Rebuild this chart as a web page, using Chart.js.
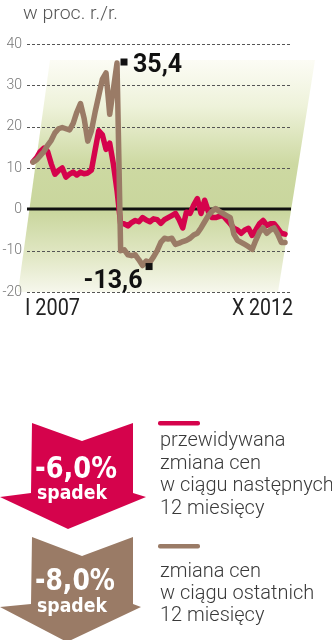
<!DOCTYPE html>
<html lang="pl">
<head>
<meta charset="utf-8">
<script src="https://cdn.jsdelivr.net/npm/chart.js@4"></script>
<style>
  html, body { margin: 0; padding: 0; background: #fff; }
  #wrap { position: relative; width: 332px; height: 640px; overflow: hidden; }
  #chart { position: absolute; left: 0; top: 0; }
  #overlay { position: absolute; left: 0; top: 0; }
  .narrow { font-family: "DejaVu Sans Condensed", "DejaVu Sans", sans-serif; }
  .light { font-family: Roboto, "Open Sans", sans-serif; font-weight: 300; }
</style>
</head>
<body>
<div id="wrap">
  <canvas id="chart" width="332" height="330"></canvas>
  <svg id="overlay" width="332" height="640" xmlns="http://www.w3.org/2000/svg">
    <text class="light" x="23" y="19" font-size="19" fill="#555" textLength="95" lengthAdjust="spacingAndGlyphs">w proc. r./r.</text>
    <text x="25" y="315" font-family="Roboto, sans-serif" font-size="24" fill="#222" textLength="55" lengthAdjust="spacingAndGlyphs">I 2007</text>
    <text x="232" y="315" font-family="Roboto, sans-serif" font-size="24" fill="#222" textLength="61" lengthAdjust="spacingAndGlyphs">X 2012</text>

    <!-- strzałki -->
    <polygon points="32,423 82,441 133,423 133,493 146,497 68,529 0,497 31,493" fill="#d5034c"/>
    <text class="narrow" x="35" y="478" font-size="31" font-weight="bold" fill="#fff" textLength="82" lengthAdjust="spacingAndGlyphs">-6,0%</text>
    <text class="narrow" x="37" y="499" font-size="19" font-weight="bold" fill="#fff" textLength="70" lengthAdjust="spacingAndGlyphs">spadek</text>

    <polygon points="32,537 82,556 133,537 133,604 141,607 67,642 0,607 31,604" fill="#9a7b66"/>
    <text class="narrow" x="35" y="590" font-size="31" font-weight="bold" fill="#fff" textLength="80" lengthAdjust="spacingAndGlyphs">-8,0%</text>
    <text class="narrow" x="37" y="612" font-size="19" font-weight="bold" fill="#fff" textLength="70" lengthAdjust="spacingAndGlyphs">spadek</text>

    <!-- legenda -->
    <rect x="158" y="421" width="42" height="4.5" rx="2" fill="#d5034c"/>
    <text class="light" font-size="20" fill="#3a3a3a">
      <tspan x="160" y="446">przewidywana</tspan>
      <tspan x="160" y="468.5">zmiana cen</tspan>
      <tspan x="160" y="491">w ciągu następnych</tspan>
      <tspan x="160" y="513.5">12 miesięcy</tspan>
    </text>
    <rect x="158" y="544" width="42" height="4.5" rx="2" fill="#9a7b66"/>
    <text class="light" font-size="20" fill="#3a3a3a">
      <tspan x="160" y="577">zmiana cen</tspan>
      <tspan x="160" y="599">w ciągu ostatnich</tspan>
      <tspan x="160" y="621">12 miesięcy</tspan>
    </text>
  </svg>
</div>
<script>
// Dane: styczeń 2007 - październik 2012, zmiana cen mieszkań r/r w %
const romanMonths = ['I','II','III','IV','V','VI','VII','VIII','IX','X','XI','XII'];
const years = [2007, 2008, 2009, 2010, 2011, 2012];

// przewidywana zmiana cen w ciągu następnych 12 miesięcy
const expectedChange = [
  11.5, 12.5, 14, 14.8, 14, 11, 8.5, 9.4, 10, 7.8, 8.5, 9,
  8.3, 9, 8.6, 8.8, 9.5, 14.3, 19, 18, 14.5, 16, 11, 4.6,
  -3.5, -3.5, -4, -3.2, -2.7, -3, -2, -2.6, -3, -2.3, -2.5, -3.4,
  -2.5, -2, -1.5, -1, -2.5, -4.5, -0.7, -1, 1, 2.6, -1, 2.2,
  -0.5, -2, -2, -1.7, -1.5, -2.5, -3.5, -4.6, -5, -5.8, -5, -4.6,
  -6.3, -5, -3.5, -2.7, -3.9, -3.5, -3.5, -4.6, -5.8, -6
];

// zmiana cen w ciągu ostatnich 12 miesięcy
const actualChange = [
  11.4, 12, 13, 14, 15.5, 16.7, 18.5, 19.5, 19.8, 19.5, 19.2, 20.8,
  23.5, 25.6, 22, 16.5, 19, 23.5, 27.5, 31.5, 33, 23, 29, 35.4,
  -10, -9.8, -11, -11.2, -11, -12.2, -13.6, -12.5, -12.8, -11.5, -10, -8,
  -7, -7.2, -7, -8.5, -8.2, -7.8, -7.5, -7, -6.2, -5.8, -4.5, -3,
  -1.5, -0.5, 0.2, -0.5, -1, -1.5, -2, -6, -7.5, -8, -8.5, -9,
  -9.7, -7.5, -5.5, -4.5, -5.8, -5, -4.5, -6, -8, -8
];

const yTicks = [40, 30, 20, 10, 0, -10, -20];

let monthLabels = [];
years.forEach(y => romanMonths.forEach(m => monthLabels.push(m + ' ' + y)));
monthLabels = monthLabels.slice(0, expectedChange.length);

const RED = '#d5034c';
const BROWN = '#9a7b66';

function toPoints(values) {
  return values.map((v, i) => ({ x: i, y: v }));
}

function fmt(v) {
  return v.toFixed(1).replace('.', ',');
}

// tło, linie siatki i opisy ekstremów
const decor = {
  id: 'decor',
  beforeDraw(chart) {
    const { ctx, chartArea: a } = chart;
    const top = a.top + 16;
    ctx.save();
    const g = ctx.createLinearGradient(0, top, 0, a.bottom);
    g.addColorStop(0, 'rgba(252,252,245,1)');
    g.addColorStop(0.2, '#eef2da');
    g.addColorStop(0.45, '#cdd9a2');
    g.addColorStop(0.65, '#c9d69d');
    g.addColorStop(0.85, '#e2e8c6');
    g.addColorStop(1, '#f6f7ec');
    ctx.fillStyle = g;
    ctx.beginPath();
    ctx.moveTo(a.left + 25, top);
    ctx.lineTo(a.right + 24, top);
    ctx.lineTo(a.right - 13, a.bottom);
    ctx.lineTo(a.left - 7, a.bottom);
    ctx.closePath();
    ctx.fill();
    ctx.restore();
  },
  beforeDatasetsDraw(chart) {
    const { ctx, chartArea: a, scales } = chart;
    ctx.save();
    yTicks.forEach(v => {
      const y = Math.round(scales.y.getPixelForValue(v));
      ctx.beginPath();
      if (v === 0) {
        ctx.setLineDash([]);
        ctx.strokeStyle = '#111';
        ctx.lineWidth = 3;
        ctx.moveTo(a.left + 2, y);
        ctx.lineTo(a.right, y);
      } else {
        ctx.setLineDash([3, 2]);
        ctx.strokeStyle = '#555';
        ctx.lineWidth = 1;
        ctx.moveTo(a.left + 2, y + 0.5);
        ctx.lineTo(a.right - 1, y + 0.5);
      }
      ctx.stroke();
    });
    ctx.restore();
  },
  afterDatasetsDraw(chart) {
    const { ctx, scales } = chart;
    const maxIdx = actualChange.indexOf(Math.max(...actualChange));
    const minIdx = actualChange.indexOf(Math.min(...actualChange));
    ctx.save();
    ctx.fillStyle = '#111';
    ctx.font = 'bold 25px Roboto, sans-serif';

    let px = scales.x.getPixelForValue(maxIdx);
    let py = scales.y.getPixelForValue(actualChange[maxIdx]);
    ctx.fillRect(px + 3.5, py - 4.5, 7, 7);
    ctx.textAlign = 'left';
    ctx.fillText(fmt(actualChange[maxIdx]), px + 16, py + 9);

    px = scales.x.getPixelForValue(minIdx);
    py = scales.y.getPixelForValue(actualChange[minIdx]);
    ctx.fillRect(px + 3, py - 2.5, 7, 7);
    ctx.textAlign = 'right';
    ctx.fillText(fmt(actualChange[minIdx]), px, py + 22);
    ctx.restore();
  }
};

new Chart(document.getElementById('chart'), {
  type: 'line',
  data: {
    labels: monthLabels,
    datasets: [
      {
        label: 'zmiana cen w ciągu ostatnich 12 miesięcy',
        data: toPoints(actualChange),
        borderColor: BROWN,
        borderWidth: 5.5,
        order: 0
      },
      {
        label: 'przewidywana zmiana cen w ciągu następnych 12 miesięcy',
        data: toPoints(expectedChange),
        borderColor: RED,
        borderWidth: 5.5,
        order: 1
      }
    ]
  },
  options: {
    responsive: false,
    animation: false,
    layout: { padding: { top: 44, right: 41, bottom: 38, left: 0 } },
    elements: {
      point: { radius: 0 },
      line: { tension: 0, borderJoinStyle: 'round', borderCapStyle: 'round' }
    },
    plugins: { legend: { display: false }, tooltip: { enabled: false } },
    scales: {
      x: {
        type: 'linear',
        display: false,
        min: -2.19,
        max: 70.64
      },
      y: {
        min: -20,
        max: 40,
        afterBuildTicks: s => { s.ticks = yTicks.map(v => ({ value: v })); },
        afterFit: s => { s.width = 25; },
        grid: { display: false, drawTicks: false },
        border: { display: false },
        ticks: {
          padding: 3,
          color: '#777',
          font: { family: 'Roboto', weight: 300, size: 14 }
        }
      }
    }
  },
  plugins: [decor]
});
</script>
</body>
</html>
